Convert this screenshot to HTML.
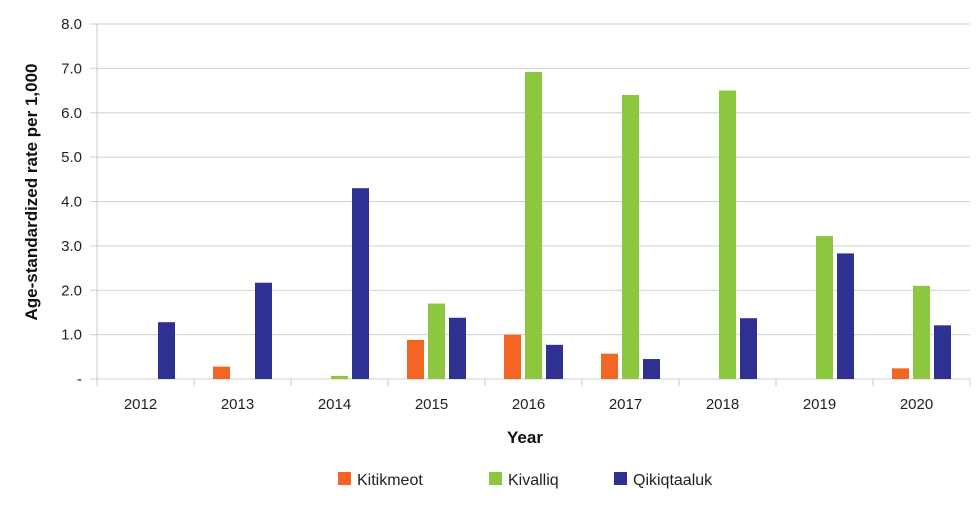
<!DOCTYPE html>
<html><head><meta charset="utf-8"><style>
body{margin:0;background:#fff;font-family:"Liberation Sans",sans-serif}
</style></head><body>
<svg id="chart" width="980" height="522" xmlns="http://www.w3.org/2000/svg"></svg>
<script>
const categories=["2012","2013","2014","2015","2016","2017","2018","2019","2020"];
const kitikmeot=[0,0.28,0,0.88,1.0,0.57,0,0,0.24];
const kivalliq=[0,0,0.07,1.7,6.92,6.4,6.5,3.22,2.1];
const qikiqtaaluk=[1.28,2.17,4.3,1.38,0.77,0.45,1.37,2.83,1.21];
const yTicks=[0,1,2,3,4,5,6,7,8];
const yTickLabels=["-","1.0","2.0","3.0","4.0","5.0","6.0","7.0","8.0"];
const seriesNames=["Kitikmeot","Kivalliq","Qikiqtaaluk"];
const colors=["#F26522","#8DC63F","#2E3192"];

const svg=document.getElementById('chart');
const NS="http://www.w3.org/2000/svg";
const x0=97,x1=970,yTop=24,yBot=379,yMax=8;
const band=(x1-x0)/categories.length;
const y=v=>yBot-(v/yMax)*(yBot-yTop);
const xc=i=>x0+band*(i+0.5);
function mk(t,a){const e=document.createElementNS(NS,t);for(const k in a)e.setAttribute(k,a[k]);svg.appendChild(e);return e;}

yTicks.forEach((t,i)=>{
  const g=mk('line',{x1:90,x2:x1,y1:y(t),y2:y(t),stroke:'#d0d0d0','stroke-width':1});
  
  
  const l=mk('text',{x:82,y:y(t)+5,'text-anchor':'end','font-size':15,fill:'#222'});
  l.textContent=yTickLabels[i];
  
  
});
const ax=mk('line',{x1:x0,x2:x0,y1:yTop,y2:yBot+7,stroke:'#c8c8c8','stroke-width':1});


for(let i=0;i<=categories.length;i++){
  const tk=mk('line',{x1:x0+band*i,x2:x0+band*i,y1:yBot,y2:yBot+7,stroke:'#c8c8c8','stroke-width':1});
  
  
}
const series=[kitikmeot,kivalliq,qikiqtaaluk];
const offs=[-21,0,21],bw=17;
categories.forEach((c,i)=>{
  series.forEach((s,j)=>{
    const v=s[i]; if(v<=0) return;
    const r=mk('rect',{x:xc(i)+offs[j]-bw/2,y:y(v),width:bw,height:yBot-y(v),fill:colors[j]});
    
    
  });
  const l=mk('text',{x:xc(i)-5,y:409,'text-anchor':'middle','font-size':15,fill:'#222'});
  l.textContent=c;
  
  
});
const xt=mk('text',{x:525,y:443,'text-anchor':'middle','font-size':17,'font-weight':'bold',fill:'#111'});
xt.textContent='Year';


const yt=mk('text',{x:0,y:0,'text-anchor':'middle','font-size':17,'font-weight':'bold',fill:'#111',transform:'translate(37,192) rotate(-90)'});
yt.textContent='Age-standardized rate per 1,000';


const lx=[338,489,614];
seriesNames.forEach((n,j)=>{
  const r=mk('rect',{x:lx[j],y:472,width:13,height:13,fill:colors[j]});
  
  
  const t=mk('text',{x:lx[j]+19,y:485,'font-size':16,fill:'#222'});
  t.textContent=n;
  
  
});
</script>
</body></html>
